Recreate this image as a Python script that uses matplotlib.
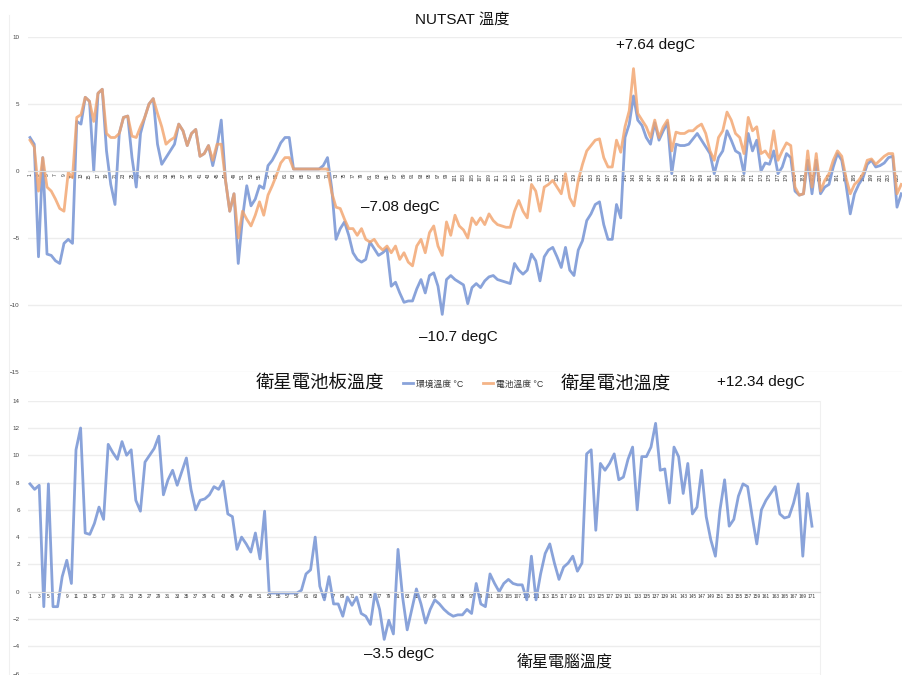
import matplotlib
matplotlib.use("Agg")
import matplotlib.pyplot as plt
import numpy as np

plt.rcParams["font.family"] = ["Liberation Sans", "Noto Sans CJK TC", "DejaVu Sans"]

# --- NUTSAT temperatures (top chart), samples 1..206 ---
ambient_temp = [
    2.5, 2.0, -6.4, 1.0, -6.2, -6.3, -6.7, -6.9, -5.4, -5.1,
    -5.4, 3.7, 3.5, 5.5, 5.2, 0.0, 5.8, 6.1, 1.5, -1.0,
    -2.5, 2.8, 4.0, 4.1, 1.0, -1.2, 2.8, 4.0, 5.0, 5.4,
    2.0, 0.5, 1.0, 1.5, 2.0, 3.5, 3.0, 1.9, 2.8, 3.1,
    1.1, 1.3, 1.9, 0.4, 1.8, 3.8, -0.7, -3.0, -1.7, -6.9,
    -3.5, -1.1, -2.6, -2.1, -1.1, -1.3, 0.4, 0.8, 1.4, 2.1,
    2.5, 2.5, 0.15, 0.15, 0.15, 0.15, 0.15, 0.15, 0.15, 0.4,
    1.0, -1.3, -5.1, -4.3, -3.8, -4.8, -6.1, -6.6, -6.8, -6.6,
    -5.3, -5.8, -6.3, -6.1, -5.8, -8.6, -8.3, -9.1, -9.8, -9.7,
    -9.7, -8.8, -8.1, -9.1, -7.8, -7.6, -8.6, -10.7, -8.1, -7.8,
    -8.1, -8.3, -8.5, -9.9, -8.7, -8.4, -8.7, -8.2, -7.9, -7.8,
    -8.1, -8.2, -8.3, -8.4, -6.9, -7.4, -7.7, -7.4, -6.2, -6.7,
    -8.2, -6.4, -5.9, -5.7, -6.4, -7.2, -5.7, -7.4, -7.8, -5.9,
    -5.2, -3.7, -3.2, -2.5, -2.3, -4.0, -5.1, -5.1, -2.5, -3.5,
    2.5, 3.5, 5.6, 3.8, 3.4, 2.5, 2.0, 3.6, 2.3, 3.0,
    3.6, -0.2, 2.0, 1.9, 1.9, 2.0, 2.4, 2.8, 2.3, 1.8,
    1.3, -0.2, 1.0, 1.5, 3.0, 2.3, 1.5, 1.3, -0.2, 2.8,
    1.5, 2.3, 0.0, 0.6, 0.5, 1.5, -0.2, 0.3, 1.3, 1.0,
    -1.5, -1.8, -1.7, 0.8, -1.7, 0.8, -1.7, -1.2, -1.0, 0.3,
    1.3, 0.8, -1.0, -3.2, -1.7, -1.0, -0.5, 0.5, 0.8, 0.3,
    0.4, 0.6, 1.0, 1.1, -2.7, -1.7,
]
battery_temp = [
    2.3, 1.8, -1.5, 1.0, -1.2, -1.5, -2.1, -2.8, -3.0, -0.1,
    -0.5, 4.0, 4.2, 5.5, 5.2, 3.7, 5.8, 6.1, 2.8, 2.5,
    2.5, 2.8, 4.0, 4.1, 2.6, 2.5, 3.3, 4.0, 5.0, 5.4,
    4.3, 3.3, 2.0, 2.3, 2.5, 3.5, 3.0, 1.9, 2.8, 3.1,
    1.1, 1.3, 1.9, 0.8, 2.0, 2.0, -0.7, -3.0, -1.7, -5.0,
    -3.0, -3.6, -4.1, -3.3, -2.3, -3.3, -1.8, -1.1, -0.3, 0.6,
    1.0, 1.0, 0.15, 0.15, 0.15, 0.15, 0.15, 0.15, 0.15, 0.15,
    0.15, -1.6, -2.7, -2.8, -3.6, -4.3, -4.3, -4.8, -4.3, -5.1,
    -5.3, -5.1, -5.6, -5.9, -5.6, -6.1, -5.6, -6.6, -6.1, -6.8,
    -7.08, -5.6, -5.1, -6.1, -4.6, -4.1, -5.6, -6.3, -3.8, -4.8,
    -3.3, -4.1, -4.4, -5.0, -3.5, -4.0, -3.5, -4.0, -3.2, -3.7,
    -4.0, -4.1, -4.2, -4.2, -3.0, -2.2, -3.0, -3.5, -1.0, -1.5,
    -3.0, -1.2, -1.0, -0.7, -1.2, -1.7, -0.2, -2.0, -2.6, -0.7,
    0.5, 1.5, 1.9, 2.3, 2.4, 1.0, 0.3, 0.3, 2.3, 1.4,
    3.3, 4.5, 7.64, 4.3, 3.8, 3.3, 2.5, 3.8, 2.5, 3.3,
    3.8, 1.5, 2.9, 2.8, 2.8, 3.0, 3.0, 3.3, 3.5, 2.8,
    1.5, 0.8, 2.5, 3.0, 4.4, 3.8, 2.8, 2.5, 1.3, 4.0,
    3.0, 3.3, 1.3, 1.5, 1.0, 3.0, 0.8, 1.5, 2.1, 1.9,
    -1.2, -1.8, -1.7, 1.5, -1.2, 1.3, -1.5, -0.7, -0.2, 0.8,
    1.5, 1.1, -0.5, -1.7, -1.0, -0.7, -0.2, 0.8, 0.9, 0.5,
    0.8, 1.1, 1.3, 1.3, -1.7, -1.0,
]

# --- satellite computer temperature (bottom chart), samples 1..171 ---
computer_temp = [
    7.9, 7.5, 7.8, -1.1, 7.9, -1.1, -1.1, 1.1, 2.3, 0.6,
    10.4, 12.0, 4.3, 4.2, 5.0, 6.2, 5.3, 10.8, 10.2, 9.7,
    11.0, 10.0, 10.4, 6.7, 5.9, 9.5, 10.0, 10.5, 11.4, 7.1,
    8.2, 8.9, 7.8, 8.8, 9.8, 7.5, 6.0, 6.7, 6.8, 7.1,
    7.7, 7.5, 8.1, 5.7, 5.5, 3.1, 4.0, 3.5, 2.9, 4.3,
    2.4, 5.9, -0.1, -0.1, -0.1, -0.1, -0.1, -0.1, -0.1, 0.1,
    1.3, 1.6, 4.0, 0.4, -0.6, 1.1, -0.9, -0.9, -1.8, -0.4,
    -1.0, -0.4, -1.6, -1.8, -2.4, -0.1, -1.3, -3.5, -2.1, -3.1,
    3.1, -0.4, -2.8, -1.3, 0.2, -0.9, -2.3, -1.3, -0.6, -0.9,
    -1.3, -1.6, -1.8, -1.7, -1.7, -1.3, -1.6, 0.6, -0.9, -1.1,
    1.3, 0.6, 0.0, 0.6, 0.9, 0.6, 0.5, 0.5, -0.6, 2.6,
    -0.6, 1.3, 2.8, 3.5, 2.1, 0.9, 1.8, 2.1, 2.6, 1.5,
    2.1, 10.1, 10.4, 4.5, 9.4, 8.9, 9.4, 10.1, 8.2, 8.4,
    9.7, 10.6, 6.0, 9.9, 9.9, 10.6, 12.34, 8.9, 9.0, 6.5,
    10.6, 9.9, 7.2, 9.4, 5.7, 6.2, 8.9, 5.5, 3.8, 2.6,
    6.0, 8.2, 4.8, 5.3, 7.0, 7.9, 7.7, 5.5, 3.5, 6.0,
    6.7, 7.2, 7.7, 5.7, 5.4, 5.5, 6.5, 7.9, 2.6, 7.2,
    4.8,
]

top_samples = np.arange(1, len(ambient_temp) + 1)
bot_samples = np.arange(1, len(computer_temp) + 1)

BLUE = "#7593d4"
ORANGE = "#f2a26a"
GRID = "#ededed"
W, H = 903, 675


def px_rect(x0, y0, x1, y1):
    return [x0 / W, 1 - y1 / H, (x1 - x0) / W, (y1 - y0) / H]


def style_axis(ax, yticks, xticks, rotation):
    for side in ("top", "right", "left"):
        ax.spines[side].set_visible(False)
    ax.spines["bottom"].set_position(("data", 0))
    ax.spines["bottom"].set_color("#dcdcdc")
    ax.spines["bottom"].set_linewidth(0.8)
    ax.set_yticks(yticks)
    ax.grid(axis="y", color=GRID, lw=1.0)
    ax.set_axisbelow(True)
    ax.tick_params(axis="y", length=0, labelsize=4.5, labelcolor="#444444", pad=6)
    ax.set_xticks(xticks)
    ax.set_xticklabels([str(t) for t in xticks], rotation=rotation)
    ax.tick_params(axis="x", length=0, labelsize=3.4, labelcolor="#333333", pad=1.5)


fig = plt.figure(figsize=(9.03, 6.75), dpi=100)

# top chart
ax_top = fig.add_axes(px_rect(28, 37, 903, 372))
ax_top.plot(top_samples, ambient_temp, color=BLUE, lw=2.0, alpha=0.85, label="環境溫度 °C")
ax_top.plot(top_samples, battery_temp, color=ORANGE, lw=2.0, alpha=0.8, label="電池溫度 °C")
ax_top.set_ylim(-15, 10)
ax_top.set_xlim(1 - 2 / 4.25, 1 + 873 / 4.25)
style_axis(ax_top, [-15, -10, -5, 0, 5, 10], list(range(1, len(ambient_temp) + 1, 2)), 90)

# bottom chart
ax_bot = fig.add_axes(px_rect(28, 400.7, 820, 673.5))
ax_bot.plot(bot_samples, computer_temp, color=BLUE, lw=2.0, alpha=0.85)
ax_bot.set_ylim(-6, 14)
ax_bot.set_xlim(1 - 2 / 4.6, 1 + 790 / 4.6)
style_axis(ax_bot, list(range(-6, 15, 2)), list(range(1, len(computer_temp) + 1, 2)), 0)
ax_bot.spines["right"].set_visible(True)
ax_bot.spines["right"].set_color("#f0f0f0")

# legend between the two section titles
handles, labels = ax_top.get_legend_handles_labels()
fig.legend(handles, labels, loc="center", bbox_to_anchor=(473 / W, 1 - 384 / H),
           ncol=2, frameon=False, fontsize=6.3, handlelength=1.2, handletextpad=0.3,
           columnspacing=2.2, labelcolor="#333333")


def ftext(x, y, s, size=11, **kw):
    fig.text(x / W, 1 - y / H, s, fontsize=size, ha="center", va="center", color="#111111", **kw)


ftext(462, 20, "NUTSAT 溫度", 11)
ftext(656, 45, "+7.64 degC")
ftext(400, 207, "–7.08 degC")
ftext(458, 337, "–10.7 degC")
ftext(320, 384, "衛星電池板溫度", 13.2)
ftext(616, 384, "衛星電池溫度", 13.2)
ftext(761, 382, "+12.34 degC")
ftext(399, 654, "–3.5 degC")
ftext(565, 662, "衛星電腦溫度", 11.5)

# faint panel border of the original screenshot
fig.add_artist(plt.Line2D([9 / W, 9 / W], [1 - 15 / H, 0], color="#f0f0f0", lw=0.8))

fig.savefig("out.png", dpi=100)
